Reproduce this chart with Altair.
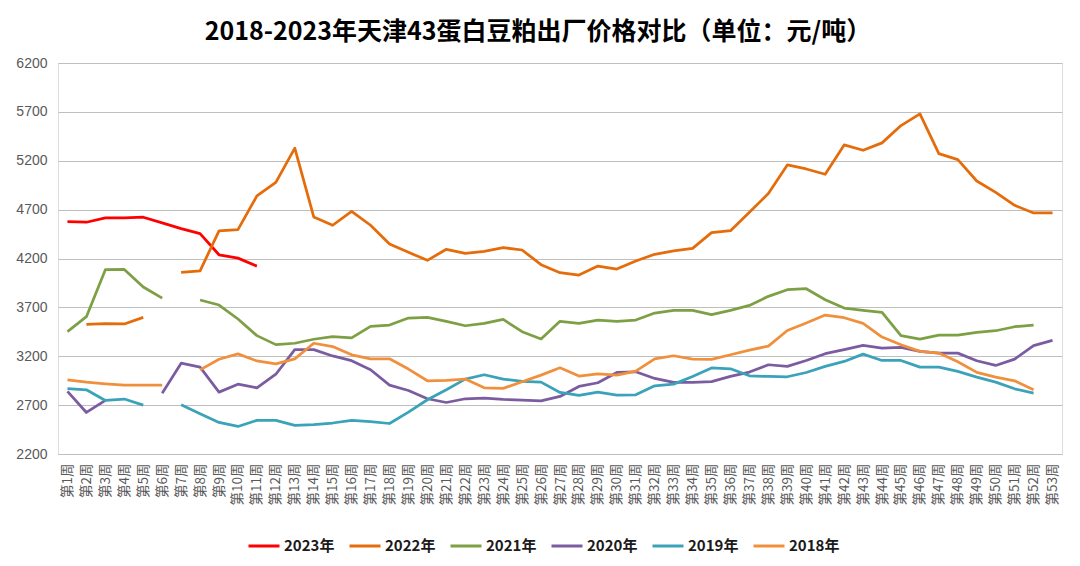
import altair as alt
import pandas as pd

weeks = ["第1周", "第2周", "第3周", "第4周", "第5周", "第6周", "第7周", "第8周", "第9周", "第10周",
         "第11周", "第12周", "第13周", "第14周", "第15周", "第16周", "第17周", "第18周", "第19周", "第20周",
         "第21周", "第22周", "第23周", "第24周", "第25周", "第26周", "第27周", "第28周", "第29周", "第30周",
         "第31周", "第32周", "第33周", "第34周", "第35周", "第36周", "第37周", "第38周", "第39周", "第40周",
         "第41周", "第42周", "第43周", "第44周", "第45周", "第46周", "第47周", "第48周", "第49周", "第50周",
         "第51周", "第52周", "第53周"]

years = ["2023年", "2022年", "2021年", "2020年", "2019年", "2018年"]
colors = ["#FF0000", "#E46C0A", "#7DA045", "#7B5CA0", "#3AA2B9", "#F0903C"]

y2023 = [4578, 4571, 4615, 4615, 4622, 4564, 4506, 4455, 4238, 4204, 4122] + [None] * 42

y2022 = [None, 3527, 3533, 3530, 3598, None, 4057, 4074, 4483, 4496, 4840, 4979, 5329, 4625, 4540, 4683,
         4540, 4348, 4263, 4181, 4294, 4253, 4273, 4311, 4287, 4137, 4055, 4031, 4123, 4092, 4174, 4243,
         4277, 4304, 4465, 4485, 4673, 4864, 5157, 5116, 5062, 5362, 5307, 5383, 5560, 5680, 5273, 5212,
         4993, 4877, 4744, 4666, 4666]

y2021 = [3452, 3605, 4085, 4088, 3908, 3795, None, 3775, 3724, 3581, 3411, 3319, 3333, 3374, 3401, 3388,
         3505, 3519, 3591, 3598, 3557, 3512, 3536, 3577, 3451, 3376, 3557, 3536, 3570, 3557, 3570, 3642,
         3669, 3669, 3625, 3669, 3720, 3813, 3881, 3891, 3778, 3693, 3669, 3649, 3410, 3376, 3417, 3417,
         3444, 3461, 3502, 3519, None]

y2020 = [2840, 2625, 2748, None, None, 2822, 3129, 3088, 2833, 2914, 2877, 3016, 3268, 3268, 3203, 3155,
         3062, 2905, 2850, 2765, 2727, 2765, 2772, 2758, 2751, 2744, 2789, 2891, 2929, 3034, 3041, 2973,
         2932, 2932, 2940, 2994, 3038, 3113, 3096, 3157, 3226, 3267, 3311, 3284, 3291, 3250, 3232, 3232,
         3154, 3106, 3171, 3308, 3362]

y2019 = [2870, 2857, 2748, 2762, 2700, None, 2703, 2612, 2523, 2482, 2544, 2544, 2493, 2500, 2517, 2545,
         2530, 2512, 2628, 2755, 2857, 2966, 3011, 2966, 2942, 2935, 2830, 2799, 2833, 2802, 2806, 2898,
         2915, 2993, 3080, 3072, 3000, 2993, 2990, 3034, 3096, 3147, 3222, 3157, 3157, 3089, 3089, 3045,
         2987, 2935, 2867, 2823, None]

y2018 = [2959, 2935, 2918, 2904, 2904, 2904, None, 3061, 3169, 3224, 3152, 3122, 3173, 3333, 3299, 3215,
         3174, 3174, 3069, 2949, 2953, 2966, 2877, 2871, 2939, 3007, 3082, 2997, 3020, 3007, 3048, 3174,
         3205, 3171, 3168, 3215, 3263, 3304, 3464, 3540, 3621, 3594, 3536, 3396, 3318, 3250, 3232, 3144,
         3035, 2987, 2949, 2857, None]

y_ticks = [2200, 2700, 3200, 3700, 4200, 4700, 5200, 5700, 6200]

series = [y2023, y2022, y2021, y2020, y2019, y2018]
rows = []
for yr, vals in zip(years, series):
    for i, (w, v) in enumerate(zip(weeks, vals)):
        rows.append({"year": yr, "week": w, "order": i, "price": v})
df = pd.DataFrame(rows)

title_text = "2018-2023年天津43蛋白豆粕出厂价格对比（单位：元/吨）"

chart = alt.Chart(df).mark_line(
    strokeWidth=2.75, invalid="break-paths-filter-domains", strokeJoin="round"
).encode(
    x=alt.X("week:O", sort=weeks, title=None,
            scale=alt.Scale(domain=weeks, type="point", padding=0.5),
            axis=alt.Axis(labelAngle=270, labelFont="Noto Sans CJK SC", labelFontSize=13.5,
                          labelColor="#595959", ticks=False, domain=True, domainColor="#BFBFBF",
                          labelPadding=9, grid=False, labelOverlap=False)),
    y=alt.Y("price:Q", title=None,
            scale=alt.Scale(domain=[2200, 6200], nice=False, zero=False),
            axis=alt.Axis(values=y_ticks, ticks=False, domain=False, gridColor="#BFBFBF",
                          labelFont="Liberation Sans", labelFontSize=14, labelColor="#595959",
                          labelPadding=11, format="d")),
    color=alt.Color("year:N", sort=years,
                    scale=alt.Scale(domain=years, range=colors),
                    legend=alt.Legend(title=None, orient="none", direction="horizontal",
                                      legendX=189, legendY=466,
                                      symbolType="stroke", symbolSize=961, symbolStrokeWidth=3,
                                      labelFont="Noto Sans CJK SC", labelFontSize=15,
                                      labelFontWeight="bold", labelColor="#1a1a1a",
                                      labelOffset=3, columnPadding=8)),
    order=alt.Order("order:Q"),
    detail="year:N",
).properties(
    width=1004,
    height=391,
    title=alt.TitleParams(title_text, font="Noto Sans CJK SC", fontSize=25, fontWeight="bold",
                          color="#000000", anchor="middle", offset=11, dx=-22),
    autosize=alt.AutoSizeParams(type="none"),
    padding={"left": 50, "top": 55, "right": 8, "bottom": 104},
).configure_view(stroke=None).configure(background="white")

chart.save("out.html", embed_options={"renderer": "svg", "actions": False})
